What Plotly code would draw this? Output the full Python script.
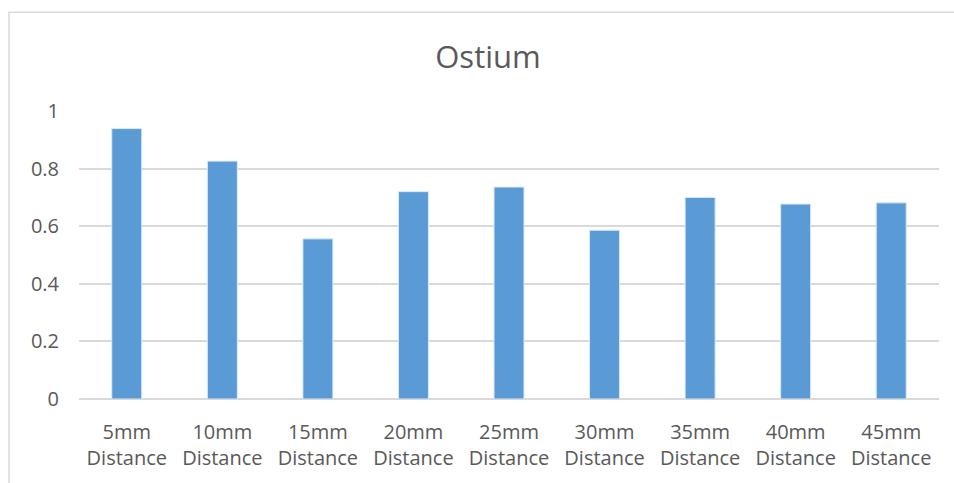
import plotly.graph_objects as go

categories = ["5mm<br>Distance", "10mm<br>Distance", "15mm<br>Distance", "20mm<br>Distance",
              "25mm<br>Distance", "30mm<br>Distance", "35mm<br>Distance", "40mm<br>Distance",
              "45mm<br>Distance"]
values = [0.939, 0.826, 0.556, 0.720, 0.736, 0.586, 0.700, 0.677, 0.681]
y_ticks = [0, 0.2, 0.4, 0.6, 0.8, 1]
y_tick_labels = ["0", "0.2", "0.4", "0.6", "0.8", "1"]

W, H = 954, 483
L = 79
R = W - 939
T = 111
B = H - 399.5
plot_w = W - L - R
plot_h = H - T - B

fig = go.Figure(go.Bar(
    x=categories, y=values,
    marker=dict(color="#5B9BD5", line=dict(color="#DCE9F6", width=1)),
))

font_family = "'Open Sans', sans-serif"
fig.update_layout(
    width=W, height=H,
    margin=dict(l=L, r=R, t=T, b=B),
    paper_bgcolor="white", plot_bgcolor="white",
    bargap=0.686,
    showlegend=False,
    font=dict(family=font_family, color="#595959", size=20),
    title=dict(text="Ostium", x=488 / W, xanchor="center", xref="container",
               y=1 - 57 / H, yanchor="middle", yref="container",
               font=dict(size=31, color="#595959", family=font_family)),
    xaxis=dict(showgrid=False, showline=False, zeroline=False,
               ticks="outside", ticklen=15, tickcolor="rgba(0,0,0,0)",
               tickfont=dict(size=20, color="#595959")),
    yaxis=dict(range=[0, 1], tickvals=y_ticks, ticktext=y_tick_labels,
               showgrid=True, gridcolor="#D9D9D9", gridwidth=1.5,
               zeroline=True, zerolinecolor="#D9D9D9", zerolinewidth=1.5,
               showline=False, ticks="outside", ticklen=15, tickcolor="rgba(0,0,0,0)",
               tickfont=dict(size=20, color="#595959")),
    shapes=[dict(type="rect", xref="paper", yref="paper",
                 x0=(9 - L) / plot_w, x1=1.2,
                 y0=-0.6, y1=(H - B - 12) / plot_h,
                 line=dict(color="#D9D9D9", width=1.5), fillcolor="rgba(0,0,0,0)",
                 layer="below")],
)

fig.write_html("out.html", config={"displayModeBar": False},
               post_script="document.body.style.margin='0';document.body.style.overflow='hidden';")
